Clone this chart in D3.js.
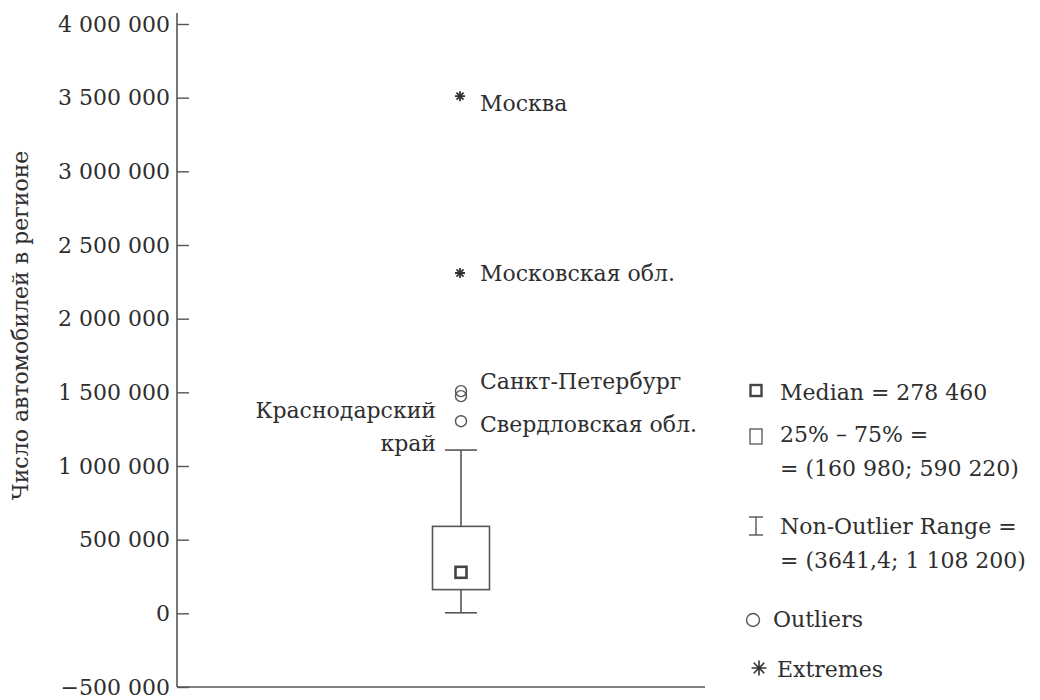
<!DOCTYPE html>
<html>
<head>
<meta charset="utf-8">
<script src="https://cdn.jsdelivr.net/npm/d3@7"></script>
<style>
  body { margin: 0; background: #fff; }
  text { font-family: "DejaVu Serif", serif; fill: #2e2e2e; }
</style>
</head>
<body>
<div id="chart"></div>
<script>
// box statistics
const stats = { median: 278460, q1: 160980, q3: 590220, low: 3641.4, high: 1108200 };

// outliers and extremes
const outlierNames = ["Санкт-Петербург", "Краснодарский край", "Свердловская обл."];
const outlierValues = [1508000, 1474000, 1304000];
const extremeNames = ["Москва", "Московская обл."];
const extremeValues = [3510000, 2310000];

const yTicks = [-500000, 0, 500000, 1000000, 1500000, 2000000, 2500000, 3000000, 3500000, 4000000];
const yTitle = "Число автомобилей в регионе";

const legendLines = ["Median = 278 460", "25% – 75% =", "= (160 980; 590 220)",
    "Non-Outlier Range =", "= (3641,4; 1 108 200)", "Outliers", "Extremes"];

const width = 1040, height = 700;
const stroke = "#555";

const svg = d3.select("#chart").append("svg")
    .attr("width", width)
    .attr("height", height);

const y = d3.scaleLinear()
    .domain([-500000, 4000000])
    .range([687, 24]);

const x = d3.scaleBand()
    .domain(["all"])
    .range([177, 745]);
const cx = x("all") + x.bandwidth() / 2;

const loc = d3.formatLocale({ decimal: ",", thousands: " ", grouping: [3], currency: ["", ""], minus: "−" });
const fmt = loc.format(",d");

// 8-armed star, like the extremes marker
const star8 = {
    draw(ctx, size) {
        const r = Math.sqrt(size) / 2;
        for (let k = 0; k < 4; k++) {
            const a = k * Math.PI / 4;
            ctx.moveTo(-r * Math.cos(a), -r * Math.sin(a));
            ctx.lineTo(r * Math.cos(a), r * Math.sin(a));
        }
    }
};

// axes
const yAxis = d3.axisLeft(y)
    .tickValues(yTicks)
    .tickFormat(fmt)
    .tickSize(-12)
    .tickPadding(7);

const gy = svg.append("g")
    .attr("transform", "translate(177,0)")
    .call(yAxis)
    .call(g => g.select(".domain").remove());
gy.selectAll(".tick line").attr("stroke", stroke).attr("stroke-width", 1.4);
gy.selectAll(".tick text")
    .style("font-family", "DejaVu Serif")
    .style("font-size", "22px")
    .attr("fill", "#2e2e2e");

svg.append("line")
    .attr("x1", 177).attr("x2", 177)
    .attr("y1", y(-500000)).attr("y2", y(4000000) - 11)
    .attr("stroke", stroke).attr("stroke-width", 1.6);
svg.append("line")
    .attr("x1", 177).attr("x2", 705)
    .attr("y1", y(-500000)).attr("y2", y(-500000))
    .attr("stroke", stroke).attr("stroke-width", 1.6);

svg.append("text")
    .attr("transform", `translate(28,${(y(-500000) + y(4000000)) / 2 - 30}) rotate(-90)`)
    .attr("text-anchor", "middle")
    .style("font-size", "22px")
    .text(yTitle);

// box plot
const boxW = 57, capW = 32;
const plot = svg.append("g").attr("fill", "none").attr("stroke", stroke).attr("stroke-width", 1.6);

plot.append("line")
    .attr("x1", cx).attr("x2", cx)
    .attr("y1", y(stats.q3)).attr("y2", y(stats.high));
plot.append("line")
    .attr("x1", cx).attr("x2", cx)
    .attr("y1", y(stats.q1)).attr("y2", y(stats.low));
[stats.high, stats.low].forEach(v => {
    plot.append("line")
        .attr("x1", cx - capW / 2).attr("x2", cx + capW / 2)
        .attr("y1", y(v)).attr("y2", y(v));
});
plot.append("rect")
    .attr("x", cx - boxW / 2).attr("width", boxW)
    .attr("y", y(stats.q3)).attr("height", y(stats.q1) - y(stats.q3))
    .attr("fill", "#fff");
plot.append("rect")
    .attr("x", cx - 5.5).attr("y", y(stats.median) - 5.5)
    .attr("width", 11).attr("height", 11)
    .attr("stroke", "#444").attr("stroke-width", 2.6);

// outliers
plot.selectAll("circle.out")
    .data(outlierValues)
    .join("circle")
    .attr("class", "out")
    .attr("cx", cx).attr("cy", d => y(d))
    .attr("r", 5.5)
    .attr("stroke-width", 1.4);

// extremes
const star = d3.symbol().type(star8).size(100);
svg.selectAll("path.ext")
    .data(extremeValues)
    .join("path")
    .attr("class", "ext")
    .attr("d", star)
    .attr("transform", d => `translate(${cx - 1},${y(d)})`)
    .attr("stroke", "#333").attr("stroke-width", 1.8).attr("fill", "none");

// point labels
const lab = svg.append("g").style("font-size", "22px");
lab.append("text").attr("x", cx + 19).attr("y", y(extremeValues[0]) + 15).text(extremeNames[0]);
lab.append("text").attr("x", cx + 19).attr("y", y(extremeValues[1]) + 8).text(extremeNames[1]);
lab.append("text").attr("x", cx + 19).attr("y", y(outlierValues[0]) - 2).text(outlierNames[0]);
lab.append("text").attr("x", cx + 19).attr("y", y(outlierValues[2]) + 11).text(outlierNames[2]);
const kr = outlierNames[1].split(" ");
lab.append("text").attr("x", cx - 25).attr("y", y(outlierValues[1]) + 22)
    .attr("text-anchor", "end").text(kr[0]);
lab.append("text").attr("x", cx - 25).attr("y", y(outlierValues[1]) + 55)
    .attr("text-anchor", "end").text(kr[1]);

// legend
const lx = 756;
const leg = svg.append("g");
const legY = [400, 442, 476, 534, 568, 627, 677];
const legX = [780, 780, 780, 780, 780, 773, 777];
leg.selectAll("text")
    .data(legendLines)
    .join("text")
    .attr("x", (d, i) => legX[i])
    .attr("y", (d, i) => legY[i])
    .style("font-size", "22px")
    .text(d => d);

const ls = leg.append("g").attr("fill", "none").attr("stroke", stroke);
ls.append("rect").attr("x", lx - 5.5).attr("y", 385).attr("width", 11).attr("height", 11)
    .attr("stroke", "#444").attr("stroke-width", 2.4);
ls.append("rect").attr("x", lx - 6).attr("y", 429).attr("width", 12).attr("height", 15)
    .attr("stroke-width", 1.3);
ls.append("line").attr("x1", lx).attr("x2", lx).attr("y1", 517).attr("y2", 535).attr("stroke-width", 1.4);
ls.append("line").attr("x1", lx - 7).attr("x2", lx + 7).attr("y1", 517).attr("y2", 517).attr("stroke-width", 1.4);
ls.append("line").attr("x1", lx - 7).attr("x2", lx + 7).attr("y1", 535).attr("y2", 535).attr("stroke-width", 1.4);
ls.append("circle").attr("cx", lx - 3).attr("cy", 620).attr("r", 6.5).attr("stroke-width", 1.4);
ls.append("path").attr("d", d3.symbol().type(star8).size(220))
    .attr("transform", `translate(${lx + 3},668)`)
    .attr("stroke", "#333").attr("stroke-width", 1.6);
</script>
</body>
</html>
